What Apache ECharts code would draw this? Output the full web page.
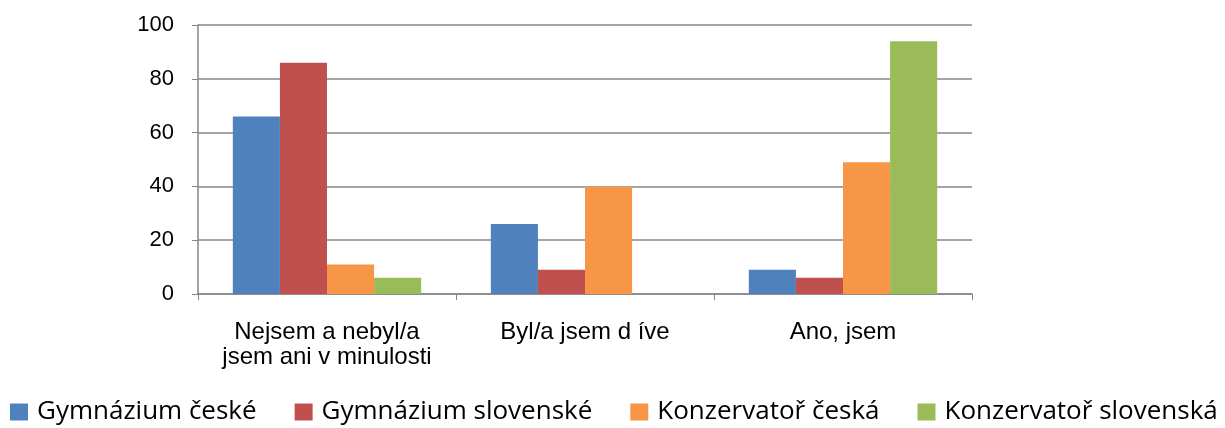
<!DOCTYPE html>
<html>
<head>
<meta charset="utf-8">
<script src="https://cdn.jsdelivr.net/npm/echarts@6/dist/echarts.min.js"></script>
<style>
html, body { margin: 0; padding: 0; background: #fff; }
#chart { width: 1225px; height: 428px; }
</style>
</head>
<body>
<div id="chart"></div>
<script>
var categories = ['Nejsem a nebyl/a\njsem ani v minulosti', 'Byl/a jsem d íve', 'Ano, jsem'];
var seriesNames = ['Gymnázium české', 'Gymnázium slovenské', 'Konzervatoř česká', 'Konzervatoř slovenská'];
var gymCz = [66, 26, 9];
var gymSk = [86, 9, 6];
var konCz = [11, 40, 49];
var konSk = [6, 0, 94];
var colors = ['#4f81bd', '#c0504d', '#f79646', '#9bbb59'];

var chart = echarts.init(document.getElementById('chart'));

var values = [gymCz, gymSk, konCz, konSk];
var series = [];
for (var i = 0; i < values.length; i++) {
	series.push({
		name: seriesNames[i],
		type: 'bar',
		data: values[i],
		barGap: '0%',
		barCategoryGap: '27%',
		itemStyle: { color: colors[i] }
	});
}

var option = {
	animation: false,
	textStyle: { fontFamily: 'Liberation Sans' },
	grid: { left: 198, right: 253, top: 25, bottom: 134 },
	legend: {
		top: 397,
		left: 8,
		width: 1220,
		padding: 2,
		itemWidth: 18,
		itemHeight: 17,
		itemGap: 38,
		icon: 'rect',
		textStyle: { fontFamily: 'Open Sans', fontSize: 26, color: '#000', padding: [0, 0, 0, 4] },
		data: seriesNames
	},
	xAxis: {
		type: 'category',
		data: categories,
		axisLine: { lineStyle: { color: '#868686', width: 1.5 } },
		axisTick: { show: true, length: 6, lineStyle: { color: '#868686' } },
		axisLabel: { color: '#000', fontSize: 24, margin: 26, lineHeight: 25, interval: 0 }
	},
	yAxis: {
		type: 'value',
		min: 0,
		max: 100,
		interval: 20,
		axisLine: { show: true, lineStyle: { color: '#868686', width: 1.5 } },
		axisTick: { show: true, length: 6, lineStyle: { color: '#868686' } },
		axisLabel: { color: '#000', fontSize: 22, margin: 24 },
		splitLine: { lineStyle: { color: '#878787', width: 1.5 } }
	},
	series: series
};
chart.setOption(option);
</script>
</body>
</html>
